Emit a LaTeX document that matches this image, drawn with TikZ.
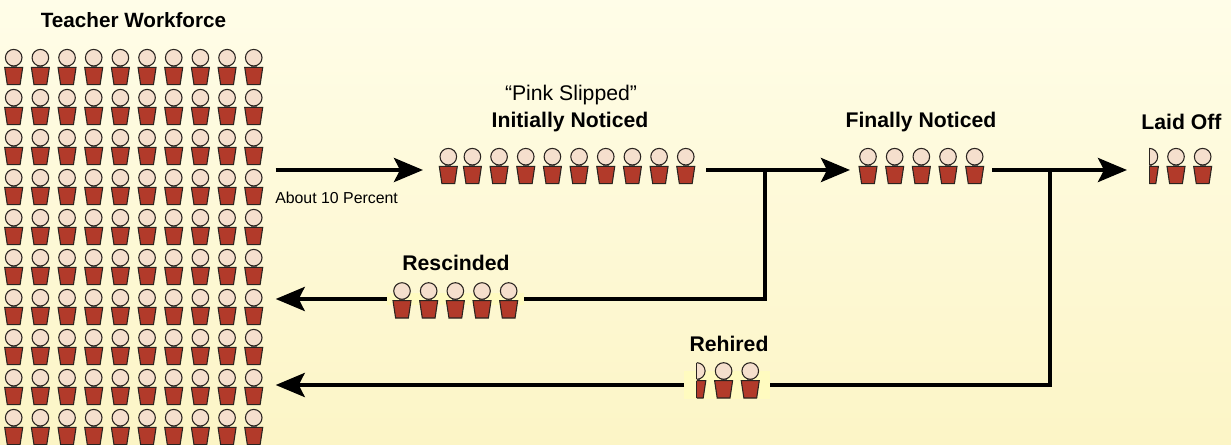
\documentclass[tikz,border=0pt]{standalone}
\usepackage{fontspec}
\setmainfont{Liberation Sans}
\usetikzlibrary{arrows.meta,calc}
\definecolor{bgtop}{HTML}{FFFDE8}
\definecolor{bgbot}{HTML}{FCF5C6}
\definecolor{maskcol}{HTML}{FFFBC0}
\definecolor{skin}{HTML}{F5DFCD}
\definecolor{shirt}{HTML}{B23A2A}
\definecolor{ink}{HTML}{2A2420}
\tikzset{
  headshape/.style={fill=skin,draw=ink,line width=0.8pt},
  bodyshape/.style={fill=shirt,draw=ink,line width=0.8pt,line join=miter},
  conn/.style={line width=3pt,draw=black},
  tip/.style={-{Stealth[length=21.75pt,width=18pt,inset=4.5pt]}},
  slot/.style={inner sep=0pt,outer sep=0pt,minimum height=20pt},
  mask/.style={slot,fill=maskcol},
  head label/.style={font=\bfseries\fontsize{15.9}{18}\selectfont,inner sep=0pt},
  plain label/.style={font=\fontsize{15.9}{18}\selectfont,inner sep=0pt},
  small label/.style={font=\fontsize{11.9}{14}\selectfont,inner sep=0pt,anchor=west}
}
% person: head centre x, head centre y (pixels)
\newcommand{\personfig}[2]{%
  \fill[ink!70] ($(#1,#2)+(-3,7)$) rectangle ($(#1,#2)+(3,9.7)$);
  \draw[headshape] (#1,#2) circle (8.3);
  \draw[bodyshape] ($(#1,#2)+(-9,9.7)$) -- ++(18,0) -- ++(-2.6,17.3) -- ++(-12.8,0) -- cycle;
}
\newcommand{\halffig}[2]{%
  \begin{scope}
    \clip ($(#1,#2)+(0,-12)$) rectangle ($(#1,#2)+(12,30)$);
    \personfig{#1}{#2}
  \end{scope}
  \draw[ink,line width=0.8pt] ($(#1,#2)+(0,-8.3)$) -- ($(#1,#2)+(0,8.3)$);
  \draw[ink,line width=0.8pt] ($(#1,#2)+(0,9.7)$) -- ($(#1,#2)+(0,27)$);
}
\begin{document}
\begin{tikzpicture}[x=0.75pt,y=-0.75pt]
\useasboundingbox (0,0) rectangle (1231,445);
\shade[top color=bgtop,bottom color=bgbot] (0,0) rectangle (1231,445);

% invisible slots that the connectors run between
\node[slot,minimum width=275.7*0.75pt,minimum height=300pt,anchor=west] (workforce) at (0,245) {};
\node[slot,minimum width=283*0.75pt,anchor=west] (initial) at (423,170) {};
\node[slot,minimum width=142*0.75pt,anchor=west] (final) at (850,170) {};
\node[slot,minimum width=88*0.75pt,anchor=west] (laid) at (1127,170) {};
\node[mask,minimum width=137.3*0.75pt,minimum height=8.5pt,anchor=west] (rescinded) at (386.7,299) {};
\node[mask,minimum width=86*0.75pt,minimum height=21pt,anchor=west] (rehired) at (684,385) {};
\coordinate (branchA) at (765,170);
\coordinate (branchB) at (1050,170);

% connectors
\draw[conn,tip] (workforce.east |- initial.west) -- (initial.west);
\draw[conn,tip] (initial.east) -- (final.west);
\draw[conn,tip] (final.east) -- (laid.west);
\draw[conn,line join=miter] (branchA) -- (branchA |- rescinded.east) -- (rescinded.east);
\draw[conn,tip] (rescinded.west) -- (workforce.east |- rescinded.west);
\draw[conn,line join=miter] (branchB) -- (branchB |- rehired.east) -- (rehired.east);
\draw[conn,tip] (rehired.west) -- (workforce.east |- rehired.west);

% workforce
\foreach \r in {0,...,9} \foreach \c in {0,...,9} {
  \pgfmathsetmacro{\px}{13.7+26.67*\c}
  \pgfmathsetmacro{\py}{57.7+40*\r}
  \personfig{\px}{\py}
}
\personfig{448.3}{156.7}
\foreach \c in {0,...,8} {\pgfmathsetmacro{\px}{472.4+26.67*\c}\personfig{\px}{156.7}}
\foreach \c in {0,...,4} {\pgfmathsetmacro{\px}{868+26.67*\c}\personfig{\px}{156.7}}
\halffig{1149.4}{156.7}
\foreach \c in {0,1} {\pgfmathsetmacro{\px}{1176+26.67*\c}\personfig{\px}{156.7}}
\foreach \c in {0,...,4} {\pgfmathsetmacro{\px}{402+26.67*\c}\personfig{\px}{291}}
\halffig{696.8}{371}
\foreach \c in {0,1} {\pgfmathsetmacro{\px}{723.6+26.67*\c}\personfig{\px}{371}}

% labels
\node[head label,font=\bfseries\fontsize{15.5}{18}\selectfont] (t1) at (133.5,20.5) {Teacher Workforce};
\node[plain label] (t2) at (571,95) {“Pink Slipped”};
\node[head label] (t3) at (570,122) {Initially Noticed};
\node[head label] (t4) at (921,122) {Finally Noticed};
\node[head label] (t5) at (1181.5,122) {Laid Off};
\node[head label] (t6) at (456,263) {Rescinded};
\node[head label] (t7) at (729,344) {Rehired};
\node[small label] (t8) at (275,198) {About 10 Percent};
\end{tikzpicture}
\end{document}
